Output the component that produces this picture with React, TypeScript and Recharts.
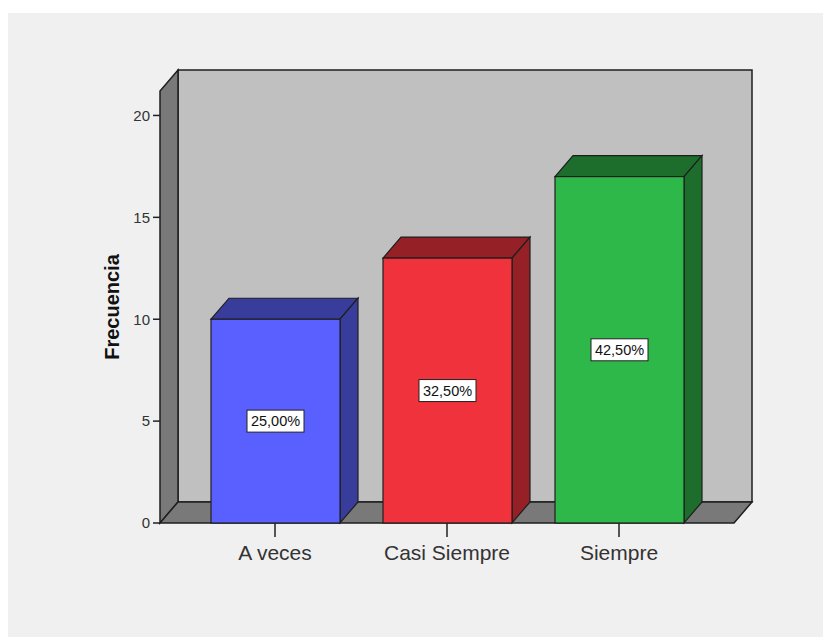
import { BarChart, Bar, XAxis, YAxis, ReferenceArea, LabelList } from "recharts";

const categories = ["A veces", "Casi Siempre", "Siempre"];
const frecuencias = [10, 13, 17];
const porcentajes = ["25,00%", "32,50%", "42,50%"];
const yTicks = [0, 5, 10, 15, 20];

const frontColors = ["#5a5fff", "#f0323c", "#2eb84a"];
const sideColors = ["#383d9c", "#952026", "#1d6e2d"];

const data = categories.map((c, i) => ({
  name: c,
  value: frecuencias[i],
  pct: porcentajes[i],
}));

// profundidad del efecto 3D
const DX = 18;
const DY = 21;
const PAD = 29; // padding del eje X a cada lado
const EDGE = "#1e1e1e";

const Walls = (props) => {
  const { y, height } = props;
  const x = props.x - PAD;
  const width = props.width + 2 * PAD;
  const b = y + height;
  const r = x + width;
  return (
    <g>
      {/* pared del fondo */}
      <rect
        x={x + DX}
        y={y - DY}
        width={width}
        height={height}
        fill="#c0c0c0"
        stroke={EDGE}
        strokeWidth={1.5}
      />
      {/* pared izquierda */}
      <polygon
        points={`${x},${b} ${x},${y} ${x + DX},${y - DY} ${x + DX},${b - DY}`}
        fill="#797979"
        stroke={EDGE}
        strokeWidth={1.5}
      />
      {/* piso */}
      <polygon
        points={`${x},${b} ${x + DX},${b - DY} ${r + DX},${b - DY} ${r},${b}`}
        fill="#797979"
        stroke={EDGE}
        strokeWidth={1.5}
      />
    </g>
  );
};

const Bar3D = (props) => {
  const { x, y, width, height, index } = props;
  const front = frontColors[index];
  const side = sideColors[index];
  const r = x + width;
  const b = y + height;
  return (
    <g>
      <polygon
        points={`${x},${y} ${x + DX},${y - DY} ${r + DX},${y - DY} ${r},${y}`}
        fill={side}
        stroke={EDGE}
        strokeWidth={1.2}
      />
      <polygon
        points={`${r},${y} ${r + DX},${y - DY} ${r + DX},${b - DY} ${r},${b}`}
        fill={side}
        stroke={EDGE}
        strokeWidth={1.2}
      />
      <rect
        x={x}
        y={y}
        width={width}
        height={height}
        fill={front}
        stroke={EDGE}
        strokeWidth={1.2}
      />
    </g>
  );
};

const PctLabel = (props) => {
  const { x, y, width, height, value } = props;
  const cx = x + width / 2;
  const cy = y + height / 2;
  return (
    <g>
      <rect
        x={cx - 28.5}
        y={cy - 11}
        width={57}
        height={22}
        fill="#ffffff"
        stroke="#222"
        strokeWidth={1}
      />
      <text
        x={cx}
        y={cy}
        textAnchor="middle"
        dominantBaseline="central"
        fontSize={14.5}
        fill="#111"
      >
        {value}
      </text>
    </g>
  );
};

export default function App() {
  return (
    <div style={{ paddingTop: 5 }}>
      <div
        style={{
          width: 823,
          height: 624,
          background: "#f0f0f0",
          fontFamily: "'Liberation Sans', Arial, sans-serif",
        }}
      >
        <BarChart
          width={823}
          height={624}
          data={data}
          margin={{ top: 78, right: 97, bottom: 0, left: 0 }}
          barSize={129}
        >
          <ReferenceArea
            y1={0}
            y2={21.2}
            ifOverflow="visible"
            shape={Walls}
            zIndex={-10}
          />
          <XAxis
            dataKey="name"
            axisLine={false}
            tickSize={14}
            tickMargin={8}
            tickLine={{ stroke: "#222", strokeWidth: 1.5 }}
            tick={{ fontSize: 21, fill: "#333" }}
            padding={{ left: PAD, right: PAD }}
            height={114}
            interval={0}
          />
          <YAxis
            width={152}
            domain={[0, 21.2]}
            ticks={yTicks}
            axisLine={false}
            tickSize={7}
            tickMargin={3}
            tickLine={{ stroke: "#222", strokeWidth: 1.5 }}
            tick={{ fontSize: 15, fill: "#333" }}
            label={{
              content: ({ viewBox }) => (
                <text
                  x={viewBox.x + 104}
                  y={viewBox.y + viewBox.height / 2}
                  transform={`rotate(-90, ${viewBox.x + 104}, ${viewBox.y + viewBox.height / 2})`}
                  textAnchor="middle"
                  dominantBaseline="central"
                  fontSize={20}
                  fontWeight="bold"
                  fill="#111"
                >
                  Frecuencia
                </text>
              ),
            }}
          />
          <Bar dataKey="value" shape={Bar3D} isAnimationActive={false}>
            <LabelList dataKey="pct" content={PctLabel} />
          </Bar>
        </BarChart>
      </div>
    </div>
  );
}
